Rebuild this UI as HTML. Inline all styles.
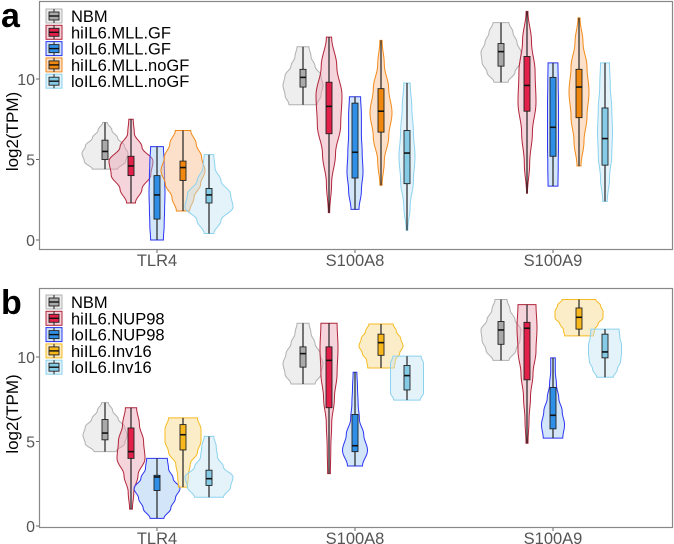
<!DOCTYPE html>
<html><head><meta charset="utf-8"><style>
html,body{margin:0;padding:0;background:#fff;}
svg{display:block;font-family:"Liberation Sans",Arial,sans-serif;}
</style></head><body>
<svg id="chart" width="674" height="544" viewBox="0 0 674 544" xmlns="http://www.w3.org/2000/svg"></svg>
<script>
const genes = ["TLR4","S100A8","S100A9"];
const groupsA = ["NBM","hiIL6.MLL.GF","loIL6.MLL.GF","hiIL6.MLL.noGF","loIL6.MLL.noGF"];
const groupsB = ["NBM","hiIL6.NUP98","loIL6.NUP98","hiIL6.Inv16","loIL6.Inv16"];
const yTicks = [0,5,10];
// [min, q1, median, q3, max] per gene per group
const statsA = [
 [[4.4,5.0,5.5,6.2,7.3],[2.3,4.0,4.6,5.2,7.5],[0,1.3,2.8,4.0,5.8],[1.8,3.7,4.5,4.9,6.8],[0.4,2.3,2.8,3.2,5.3]],
 [[8.4,9.5,10.1,10.6,12.0],[1.7,6.6,8.3,9.8,12.6],[1.9,3.85,5.45,8.5,8.9],[3.4,6.7,8.0,9.4,12.4],[0.6,3.5,5.4,6.8,9.75]],
 [[9.8,10.8,11.7,12.2,13.5],[2.9,8.0,9.6,11.4,14.2],[3.35,5.2,7.0,10.1,11.0],[4.6,7.6,9.5,10.6,13.8],[2.4,4.65,6.3,8.2,11.0]]
];
const statsB = [
 [[4.4,5.1,5.5,6.3,7.3],[1.0,4.0,4.4,5.8,7.0],[0.45,2.1,2.9,3.0,4.0],[2.3,4.5,5.4,6.0,6.4],[1.7,2.4,2.8,3.3,5.3]],
 [[8.4,9.4,10.2,10.6,12.0],[3.1,7.0,9.8,10.6,12.0],[3.55,4.4,4.75,6.6,9.1],[9.35,10.1,10.85,11.35,11.95],[7.45,8.05,8.9,9.5,10.05]],
 [[9.8,10.75,11.6,12.1,13.4],[4.9,8.65,11.7,12.05,13.1],[5.2,5.75,6.55,8.2,9.95],[11.25,11.65,12.35,12.9,13.4],[8.8,9.95,10.3,11.35,11.65]]
];
// relative density profiles bottom->top
const densA = [
 [[0.55,0.9,1.0,0.85,0.55,0.3,0.1],[0.2,0.5,0.9,1.0,0.5,0.15,0.1],[0.8,0.9,0.95,1,0.95,0.9,0.8],[0.3,0.5,0.8,1.0,0.85,0.6,0.35],[0.2,0.5,1.0,0.9,0.5,0.25,0.2]],
 [[0.7,0.9,1.0,0.9,0.6,0.4,0.3],[0.05,0.2,0.5,0.9,1.0,0.6,0.2],[0.5,0.8,1,0.9,0.8,0.8,0.7],[0.1,0.3,0.7,1.0,0.7,0.3,0.1],[0.1,0.4,0.8,1.0,0.8,0.6,0.4]],
 [[0.35,0.7,0.95,1.0,0.8,0.6,0.4],[0.05,0.3,0.6,1.0,0.9,0.5,0.1],[0.9,0.95,1,1,1,0.95,0.9],[0.2,0.5,0.8,1.0,0.8,0.4,0.1],[0.3,0.6,0.9,1.0,0.9,0.7,0.6]]
];
const densB = [
 [[0.5,0.9,1.0,0.9,0.6,0.35,0.15],[0.1,0.2,0.5,1.0,0.9,0.6,0.4],[0.3,0.6,0.8,1.0,0.7,0.5,0.45],[0.25,0.3,0.4,0.8,1.0,1.0,0.8],[0.6,0.9,1.0,0.6,0.35,0.3,0.2]],
 [[0.6,0.9,1.0,0.85,0.6,0.4,0.3],[0.15,0.2,0.3,0.6,0.9,1.0,0.9],[0.6,1.0,0.7,0.35,0.25,0.2,0.15],[0.6,0.65,0.85,1.0,0.9,0.7,0.55],[0.8,1,1,1,1,1,0.85]],
 [[0.4,0.75,0.95,1.0,0.7,0.45,0.3],[0.1,0.2,0.35,0.6,0.9,1.0,0.9],[0.85,1.0,0.8,0.5,0.3,0.2,0.2],[0.6,0.65,0.8,1.0,1.0,0.9,0.7],[0.5,0.75,0.95,1,1,0.9,0.85]]
];
const hwA = [[23,22,8,22,24],[20,13,8,11,8],[20,9,5.5,10,7.5]];
const hwB = [[22,14,23,18,24],[20,9,12.5,22,16.5],[20,10,11.5,24,16.5]];

const stylesA = [
 {stroke:"#b0b0b0",fill:"#d9d9d9",box:"#a9a9a9"},
 {stroke:"#b0243a",fill:"#eba0b2",box:"#e3204a"},
 {stroke:"#2b35f2",fill:"#9cc6f2",box:"#2f8fe6"},
 {stroke:"#f28a1a",fill:"#f8bb88",box:"#f0870f"},
 {stroke:"#8cd2ee",fill:"#c4e4f3",box:"#86cbe6"}];
const stylesB = [stylesA[0],stylesA[1],stylesA[2],
 {stroke:"#f6bb22",fill:"#f9d687",box:"#f8b71a"}, stylesA[4]];

const NS="http://www.w3.org/2000/svg";
const svg=document.getElementById("chart");
function mk(tag,attrs,parent){const e=document.createElementNS(NS,tag);for(const k in attrs)e.setAttribute(k,attrs[k]);(parent||svg).appendChild(e);return e;}

function drawPanel(p){
  const g=mk("g",{});
  
  
  const L=39,R=673,T=p.top,B=p.bottom;
  const yS=v=>p.y0-v*p.k;
  const xS=(gi,si)=>157+gi*198+(si-2)*26;
  const frame=mk("rect",{x:L+0.5,y:T+0.5,width:R-L-1,height:B-T-1,fill:"none",stroke:"#888",'stroke-width':1.2},g);
  
  
  yTicks.forEach(t=>{
    const y=yS(t);
    mk("line",{x1:L-3,x2:L,y1:y,y2:y,stroke:"#666"},g);
    const tx=mk("text",{x:L-4,y:y+6,'text-anchor':'end','font-size':16,fill:'#555'},g);
    tx.textContent=t;
    
    
  });
  genes.forEach((gn,gi)=>{
    const x=157+gi*198;
    mk("line",{x1:x,x2:x,y1:B,y2:B+3,stroke:"#666"},g);
    const tx=mk("text",{x:x,y:B+16,'text-anchor':'middle','font-size':16.5,fill:'#555'},g);
    tx.textContent=gn;
    
    
  });
  const yt=mk("text",{x:0,y:0,transform:`translate(18,${(T+B)/2+6}) rotate(-90)`,'text-anchor':'middle','font-size':17,fill:'#000'},g);
  yt.textContent="log2(TPM)";
  
  
  const lt=mk("text",{x:1,y:T+26,'font-size':34,'font-weight':'bold',fill:'#000'},g);
  lt.textContent=p.letter;
  
  
  genes.forEach((gn,gi)=>{
    p.groups.forEach((gr,si)=>{
      const s=p.stats[gi][si], d=p.dens[gi][si], hw=p.hw[gi][si], st=p.styles[si];
      const cx=xS(gi,si);
      const n=d.length, pts=[];
      for(let i=0;i<n;i++){const v=s[0]+(s[4]-s[0])*i/(n-1);pts.push([d[i]*hw,yS(v)]);}
      const fine=[];
      for(let i=0;i<n-1;i++){for(let t=0;t<8;t++){const u=t/8,w=(1-Math.cos(Math.PI*u))/2;fine.push([pts[i][0]*(1-w)+pts[i+1][0]*w,pts[i][1]*(1-u)+pts[i+1][1]*u]);}}
      fine.push(pts[n-1]);
      let path="M"+(cx-fine[0][0])+","+fine[0][1];
      fine.forEach(q=>path+=" L"+(cx+q[0])+","+q[1]);
      for(let i=fine.length-1;i>=0;i--)path+=" L"+(cx-fine[i][0])+","+fine[i][1];
      path+="Z";
      const vg=mk("g",{},g);
      
      
      mk("path",{d:path,fill:st.fill,'fill-opacity':0.45,stroke:st.stroke,'stroke-width':1},vg);
      mk("line",{x1:cx,x2:cx,y1:yS(s[0]),y2:yS(s[4]),stroke:'#222','stroke-width':1.2},vg);
      mk("rect",{x:cx-3,y:yS(s[3]),width:6,height:yS(s[1])-yS(s[3]),fill:st.box,stroke:'#222','stroke-width':0.9},vg);
      mk("line",{x1:cx-3,x2:cx+3,y1:yS(s[2]),y2:yS(s[2]),stroke:'#111','stroke-width':1.6},vg);
    });
  });
  p.groups.forEach((gr,si)=>{
    const y=p.legY+si*16.3, st=p.styles[si];
    const lg=mk("g",{},g);
    
    
    mk("rect",{x:46,y:y-7,width:16,height:14,fill:st.fill,'fill-opacity':0.5,stroke:st.stroke},lg);
    mk("line",{x1:54,x2:54,y1:y-7,y2:y+7,stroke:'#222'},lg);
    mk("rect",{x:49,y:y-4,width:10,height:8,fill:st.box,stroke:'#222','stroke-width':0.9},lg);
    mk("line",{x1:49,x2:59,y1:y,y2:y,stroke:'#111','stroke-width':1.4},lg);
    const tx=mk("text",{x:71,y:y+6,'font-size':16.5,fill:'#000'},lg);
    tx.textContent=gr;
  });
}
drawPanel({name:'panel-a',letter:'a',top:1,bottom:250,y0:240,k:16.1,groups:groupsA,stats:statsA,dens:densA,hw:hwA,styles:stylesA,legY:16});
drawPanel({name:'panel-b',letter:'b',top:288,bottom:528,y0:526,k:16.9,groups:groupsB,stats:statsB,dens:densB,hw:hwB,styles:stylesB,legY:302});
</script>
</body></html>
